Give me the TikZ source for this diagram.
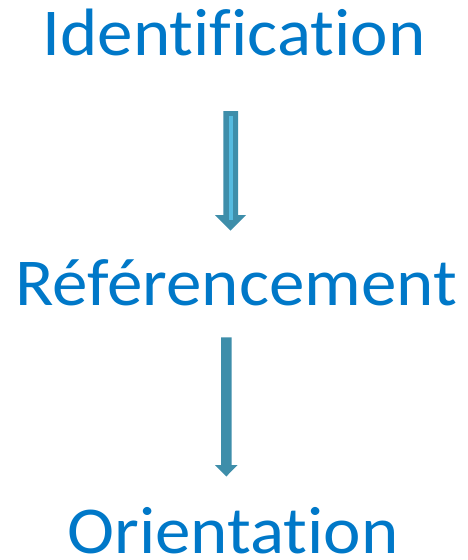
\documentclass[tikz,border=0pt]{standalone}
\usepackage{fontspec}
\setmainfont[Ligatures={NoCommon},FakeStretch=1.06]{Carlito}
\definecolor{txtblue}{HTML}{0078C8}
\definecolor{arrowblue}{HTML}{3E8EAA}
\definecolor{stripe}{HTML}{55BBE0}
\begin{document}
\begin{tikzpicture}[x=1pt,y=-1pt,
  lbl/.style={text=txtblue,font=\fontsize{67}{70}\selectfont,inner sep=0pt,anchor=base,text depth=0pt}]
\useasboundingbox (0,0) rectangle (467,560);
\node[lbl] (ident) at (234,55) {Identification};
\node[lbl] (refer) at (236,305) {Référencement};
\node[lbl] (orient) at (233,553) {Orientation};
% arrow 1
\coordinate (a1top) at (230.5,111);
\coordinate (a1tip) at (230.5,230.5);
\fill[arrowblue] (223.3,111) -- (238,111) -- (238,215) -- (246,215) -- (a1tip) -- (215,215) -- (223.3,215) -- cycle;
\fill[stripe] (229,116) rectangle (233,220);
% arrow 2
\coordinate (a2tip) at (226.3,476.5);
\fill[arrowblue] (221,337.3) -- (231.7,337.3) -- (231.7,465) -- (237.5,465) -- (a2tip) -- (215,465) -- (221,465) -- cycle;
\end{tikzpicture}
\end{document}
